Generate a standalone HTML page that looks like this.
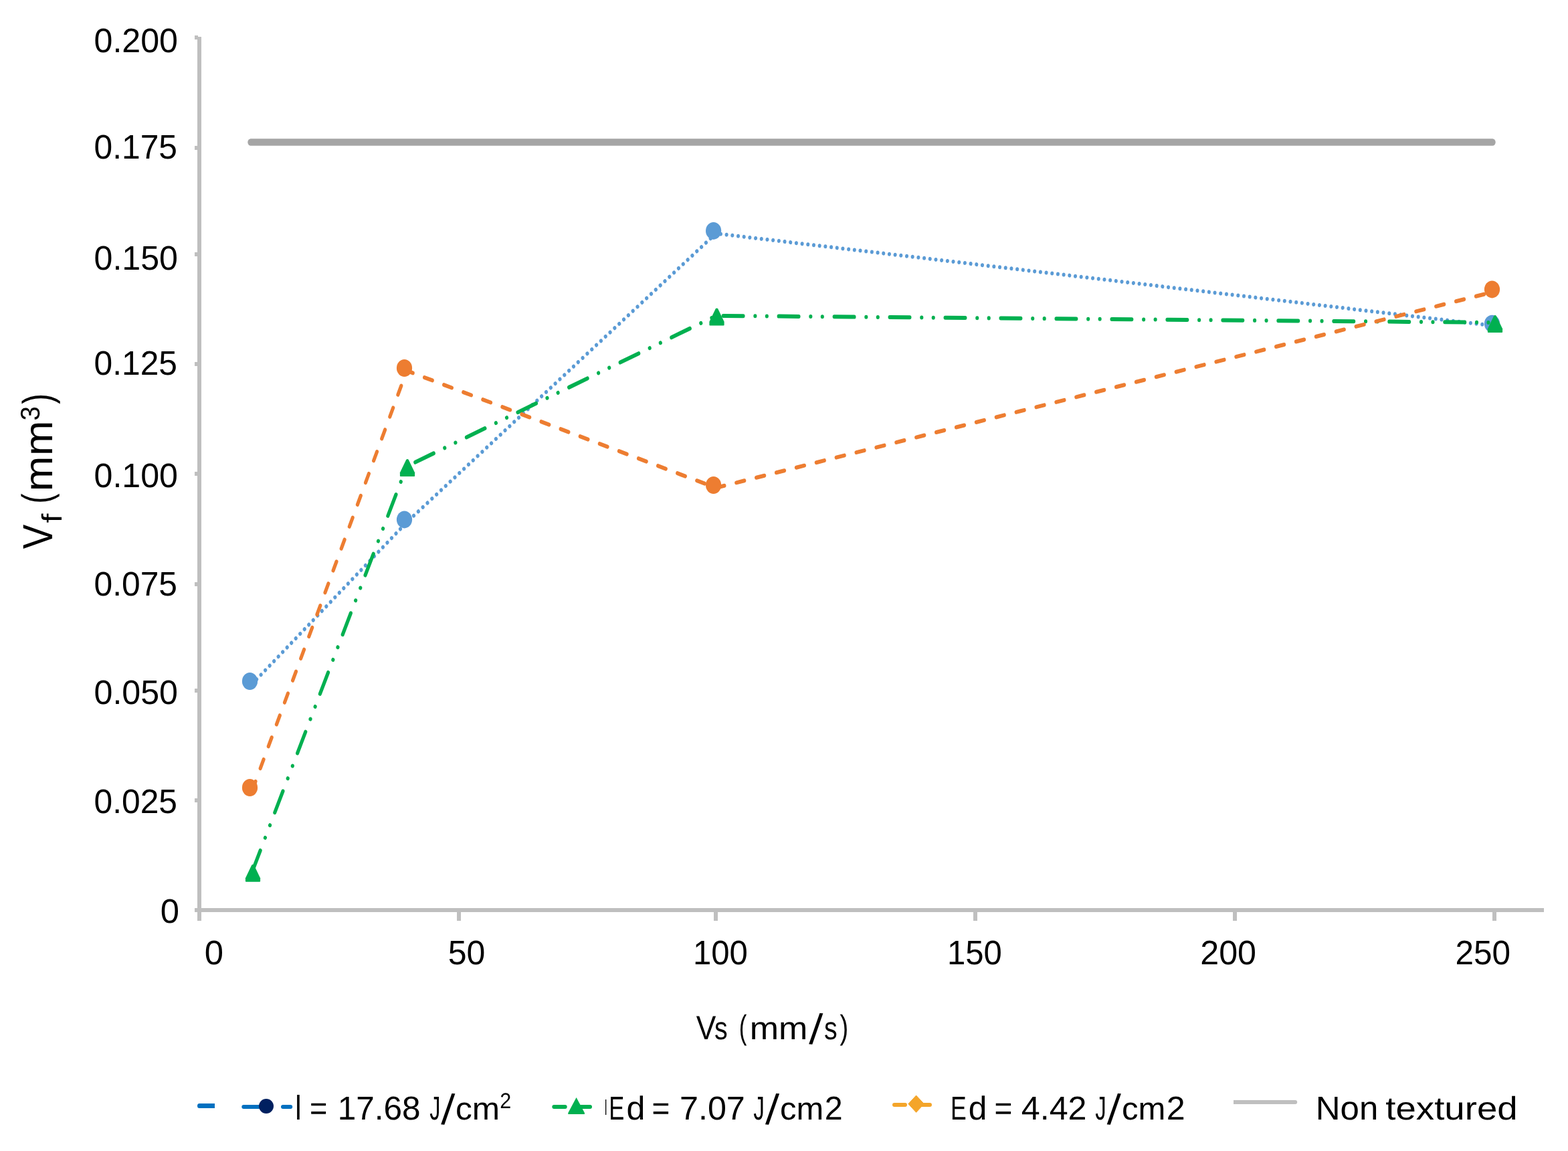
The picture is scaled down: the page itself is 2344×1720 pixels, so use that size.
<!DOCTYPE html>
<html lang="en">
<head>
<meta charset="utf-8">
<title>Vf versus Vs</title>
<style>
html,body{margin:0;padding:0;background:#fff;}
body{width:2344px;height:1720px;}
svg{display:block;}
text{font-family:"Liberation Sans", sans-serif;fill:#000;white-space:pre;}
</style>
</head>
<body>
<svg width="2344" height="1720" viewBox="0 0 2344 1720">
<rect width="2344" height="1720" fill="#ffffff"/>

<g fill="#BFBFBF" shape-rendering="crispEdges">
<rect x="295" y="55" width="6" height="1321"/>
<rect x="291" y="1357" width="2017" height="6"/>
<rect x="291" y="53" width="5" height="5.5"/>
<rect x="291" y="218" width="5" height="5.5"/>
<rect x="291" y="377" width="5" height="5.5"/>
<rect x="291" y="541" width="5" height="5.5"/>
<rect x="291" y="705" width="5" height="5.5"/>
<rect x="291" y="870" width="5" height="5.5"/>
<rect x="291" y="1029" width="5" height="5.5"/>
<rect x="291" y="1193" width="5" height="5.5"/>
<rect x="683" y="1360" width="6" height="16"/>
<rect x="1067" y="1360" width="6" height="16"/>
<rect x="1455" y="1360" width="6" height="16"/>
<rect x="1843" y="1360" width="6" height="16"/>
<rect x="2231" y="1360" width="6" height="16"/>
</g>
<g transform="scale(1 1.17)" fill="none" stroke-width="5.13" stroke-linecap="round" stroke-linejoin="round">
<polyline points="377.10,873.504 608.10,667.009 1070.20,298.205 2234.10,416.239" stroke="#5B9BD5" stroke-dasharray="0.01 8.724" stroke-dashoffset="0.000"/>
</g>
<ellipse cx="373.5" cy="1018" rx="11.6" ry="13" fill="#5B9BD5"/>
<ellipse cx="604.5" cy="776.4" rx="11.6" ry="13" fill="#5B9BD5"/>
<ellipse cx="1066.6" cy="344.9" rx="11.6" ry="13" fill="#5B9BD5"/>
<ellipse cx="2230.5" cy="483.8" rx="11.6" ry="13" fill="#5B9BD5"/>
<g transform="scale(1 1.17)" fill="none" stroke-width="5.13" stroke-linecap="round" stroke-linejoin="round">
<polyline points="377.00,1113.504 608.00,595.726 1070.50,403.248 2234.00,411.966" stroke="#00B050" stroke-dasharray="29.806 17.849 0.010 17.458 0.010 17.839" stroke-dashoffset="0.000"/>
</g>
<path d="M376.2 1292.8 Q378.0 1290.8 379.8 1292.8 L389.1 1312.2 V1316.8 Q389.1 1317.8 388.1 1317.8 H367.9 Q366.9 1317.8 366.9 1316.8 V1312.2 Z" fill="#00B050"/>
<path d="M607.2 686.9 Q609.0 684.9 610.8 686.9 L620.1 706.3 V710.9 Q620.1 711.9 619.1 711.9 H598.9 Q597.9 711.9 597.9 710.9 V706.3 Z" fill="#00B050"/>
<path d="M1069.7 461.4 Q1071.5 459.4 1073.3 461.4 L1082.6 480.8 V485.4 Q1082.6 486.4 1081.6 486.4 H1061.4 Q1060.4 486.4 1060.4 485.4 V480.8 Z" fill="#00B050"/>
<path d="M2233.2 471.9 Q2235.0 469.9 2236.8 471.9 L2246.1 491.3 V495.9 Q2246.1 496.9 2245.1 496.9 H2224.9 Q2223.9 496.9 2223.9 495.9 V491.3 Z" fill="#00B050"/>
<g transform="scale(1 1.17)" fill="none" stroke-width="5.13" stroke-linecap="round" stroke-linejoin="round">
<polyline points="377.10,1009.402 608.10,473.504 1070.20,623.077 2234.10,372.479" stroke="#ED7D31" stroke-dasharray="12.338 18.231" stroke-dashoffset="0.000"/>
</g>
<ellipse cx="373.5" cy="1177" rx="11.6" ry="13" fill="#ED7D31"/>
<ellipse cx="604.5" cy="550" rx="11.6" ry="13" fill="#ED7D31"/>
<ellipse cx="1066.6" cy="725" rx="11.6" ry="13" fill="#ED7D31"/>
<ellipse cx="2230.5" cy="432.4" rx="11.6" ry="13" fill="#ED7D31"/>
<rect x="370.3" y="207.3" width="1865.4" height="10.4" rx="4.6" ry="5.2" fill="#A5A5A5"/>
<g shape-rendering="auto">
<path d="M298 1649 H321 V1656 H298 A3 3.5 0 0 1 298 1649 Z" fill="#0070C0"/>
<rect x="361.3" y="1651" width="30" height="6" rx="3" fill="#0070C0"/>
<rect x="420" y="1651" width="17.2" height="6" rx="3" fill="#0070C0"/>
<circle cx="398" cy="1653" r="11" fill="#002060"/>
<rect x="825.3" y="1651" width="22.4" height="6" rx="3" fill="#00B050"/>
<rect x="862" y="1651" width="23" height="6" rx="3" fill="#00B050"/>
<path d="M861.6 1640 L873.9 1663 L873.9 1665 L849.3 1665 L849.3 1663 Z" fill="#00B050"/>
<rect x="905" y="1643" width="1.3" height="23" fill="#000"/>
<rect x="1334" y="1648" width="22" height="6" rx="3" fill="#F4A52A"/>
<rect x="1372" y="1648" width="21" height="6" rx="3" fill="#F4A52A"/>
<path d="M1369.6 1637 L1381.3 1649.6 L1369.6 1662.3 L1357.9 1649.6 Z" fill="#F4A52A" stroke="#F4A52A" stroke-width="1" stroke-linejoin="round"/>
<path d="M1844 1644 H1936.2 A3 3 0 0 1 1936.2 1650 H1844 Z" fill="#BFBFBF"/>
</g>
<g id="texts" text-rendering="geometricPrecision">
<text><tspan x="140.50" y="78.25" font-size="50.80" textLength="125.47" lengthAdjust="spacingAndGlyphs">0.200</tspan></text>
<text><tspan x="140.50" y="236.75" font-size="50.80" textLength="124.54" lengthAdjust="spacingAndGlyphs">0.175</tspan></text>
<text><tspan x="140.50" y="402.50" font-size="50.80" textLength="125.47" lengthAdjust="spacingAndGlyphs">0.150</tspan></text>
<text><tspan x="140.50" y="560.00" font-size="50.80" textLength="124.54" lengthAdjust="spacingAndGlyphs">0.125</tspan></text>
<text><tspan x="140.50" y="728.25" font-size="50.80" textLength="125.47" lengthAdjust="spacingAndGlyphs">0.100</tspan></text>
<text><tspan x="140.50" y="890.00" font-size="50.80" textLength="124.54" lengthAdjust="spacingAndGlyphs">0.075</tspan></text>
<text><tspan x="140.50" y="1052.25" font-size="50.80" textLength="125.47" lengthAdjust="spacingAndGlyphs">0.050</tspan></text>
<text><tspan x="140.50" y="1214.50" font-size="50.80" textLength="124.54" lengthAdjust="spacingAndGlyphs">0.025</tspan></text>
<text><tspan x="239.75" y="1379.25" font-size="50.80">0</tspan></text>
<text><tspan x="305.75" y="1441.25" font-size="50.80">0</tspan></text>
<text><tspan x="669.75" y="1441.25" font-size="50.80" textLength="55.71" lengthAdjust="spacingAndGlyphs">50</tspan></text>
<text><tspan x="1036.00" y="1441.25" font-size="50.80" textLength="81.87" lengthAdjust="spacingAndGlyphs">100</tspan></text>
<text><tspan x="1416.00" y="1441.25" font-size="50.80" textLength="81.87" lengthAdjust="spacingAndGlyphs">150</tspan></text>
<text><tspan x="1794.25" y="1441.25" font-size="50.80" textLength="83.82" lengthAdjust="spacingAndGlyphs">200</tspan></text>
<text><tspan x="2175.50" y="1441.25" font-size="50.80" textLength="82.60" lengthAdjust="spacingAndGlyphs">250</tspan></text>
<text><tspan x="1040.75" y="1552.50" font-size="50.20" textLength="29.58" lengthAdjust="spacingAndGlyphs">V</tspan><tspan x="1068.00" y="1552.50" font-size="48.00" textLength="19.72" lengthAdjust="spacingAndGlyphs">s</tspan> <tspan x="1104.75" y="1551.60" font-size="50.20" textLength="11.58" lengthAdjust="spacingAndGlyphs">(</tspan><tspan x="1120.75" y="1552.50" font-size="48.00" textLength="86.58" lengthAdjust="spacingAndGlyphs">mm</tspan><tspan x="1209.25" y="1559.75" font-size="64.50" rotate="4.00">/</tspan><tspan x="1232.00" y="1552.50" font-size="48.00" textLength="19.72" lengthAdjust="spacingAndGlyphs">s</tspan><tspan x="1255.50" y="1551.60" font-size="50.20" textLength="12.74" lengthAdjust="spacingAndGlyphs">)</tspan></text>
<text><tspan x="441.25" y="1672.70" font-size="51.00" textLength="9.34" lengthAdjust="spacingAndGlyphs">l</tspan> <tspan x="463.00" y="1672.70" font-size="49.50" textLength="26.36" lengthAdjust="spacingAndGlyphs">=</tspan> <tspan x="504.75" y="1672.70" font-size="49.50" textLength="123.88" lengthAdjust="spacingAndGlyphs">17.68</tspan> <tspan x="642.25" y="1672.70" font-size="49.50" textLength="16.14" lengthAdjust="spacingAndGlyphs">J</tspan><tspan x="659.25" y="1679.75" font-size="64.50" rotate="4.00">/</tspan><tspan x="681.00" y="1672.70" font-size="47.50" textLength="66.11" lengthAdjust="spacingAndGlyphs">cm</tspan><tspan x="747.25" y="1656.00" font-size="32.50" textLength="16.98" lengthAdjust="spacingAndGlyphs">2</tspan></text>
<text><tspan x="910.25" y="1672.70" font-size="49.50" textLength="23.06" lengthAdjust="spacingAndGlyphs">E</tspan><tspan x="936.50" y="1672.70" font-size="49.50" textLength="27.90" lengthAdjust="spacingAndGlyphs">d</tspan> <tspan x="974.50" y="1672.70" font-size="49.50" textLength="26.87" lengthAdjust="spacingAndGlyphs">=</tspan> <tspan x="1016.00" y="1672.70" font-size="49.50" textLength="97.82" lengthAdjust="spacingAndGlyphs">7.07</tspan> <tspan x="1126.25" y="1672.70" font-size="49.50" textLength="16.63" lengthAdjust="spacingAndGlyphs">J</tspan><tspan x="1144.00" y="1679.75" font-size="64.50" rotate="4.00">/</tspan><tspan x="1166.00" y="1672.70" font-size="47.50" textLength="65.18" lengthAdjust="spacingAndGlyphs">cm</tspan><tspan x="1232.75" y="1672.70" font-size="49.50" textLength="26.93" lengthAdjust="spacingAndGlyphs">2</tspan></text>
<text><tspan x="1421.00" y="1672.70" font-size="49.50" textLength="23.71" lengthAdjust="spacingAndGlyphs">E</tspan><tspan x="1447.75" y="1672.70" font-size="49.50" textLength="27.60" lengthAdjust="spacingAndGlyphs">d</tspan> <tspan x="1486.50" y="1672.70" font-size="49.50" textLength="26.87" lengthAdjust="spacingAndGlyphs">=</tspan> <tspan x="1526.75" y="1672.70" font-size="49.50" textLength="97.75" lengthAdjust="spacingAndGlyphs">4.42</tspan> <tspan x="1637.25" y="1672.70" font-size="49.50" textLength="16.45" lengthAdjust="spacingAndGlyphs">J</tspan><tspan x="1654.75" y="1679.75" font-size="64.50" rotate="4.00">/</tspan><tspan x="1677.00" y="1672.70" font-size="47.50" textLength="65.35" lengthAdjust="spacingAndGlyphs">cm</tspan><tspan x="1743.75" y="1672.70" font-size="49.50" textLength="27.90" lengthAdjust="spacingAndGlyphs">2</tspan></text>
<text><tspan x="1966.75" y="1672.70" font-size="49.50" textLength="93.59" lengthAdjust="spacingAndGlyphs">Non</tspan> <tspan x="2071.25" y="1672.70" font-size="48.50" textLength="197.41" lengthAdjust="spacingAndGlyphs">textured</tspan></text>
<text transform="rotate(-90)"><tspan x="-820.25" y="78.20" font-size="62.80" textLength="36.51" lengthAdjust="spacingAndGlyphs">V</tspan><tspan x="-781.50" y="92.20" font-size="41.90" textLength="13.81" lengthAdjust="spacingAndGlyphs">f</tspan> <tspan x="-752.50" y="76.25" font-size="61.50" textLength="15.05" lengthAdjust="spacingAndGlyphs">(</tspan><tspan x="-734.25" y="78.20" font-size="59.50" textLength="52.56" lengthAdjust="spacingAndGlyphs">m</tspan><tspan x="-681.00" y="78.20" font-size="59.50" textLength="52.39" lengthAdjust="spacingAndGlyphs">m</tspan><tspan x="-628.50" y="58.70" font-size="40.30" textLength="21.30" lengthAdjust="spacingAndGlyphs">3</tspan><tspan x="-603.75" y="76.50" font-size="61.50" textLength="15.62" lengthAdjust="spacingAndGlyphs">)</tspan></text>
</g>
</svg>
</body>
</html>
